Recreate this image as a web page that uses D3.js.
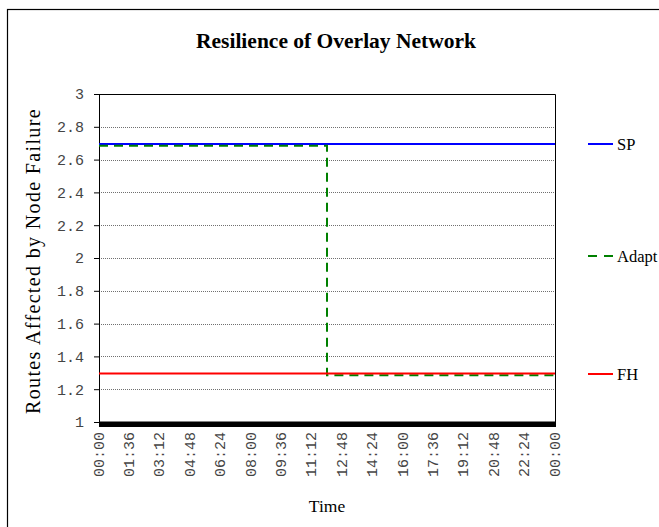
<!DOCTYPE html>
<html>
<head>
<meta charset="utf-8">
<script src="https://cdn.jsdelivr.net/npm/d3@7"></script>
<style>
  body { margin: 0; background: #fff; }
</style>
</head>
<body>
<svg id="chart" width="659" height="527"></svg>
<script>
// time in minutes since 00:00, step points
const times = [0, 720, 1440]
const spValues = [2.695, 2.695, 2.695]
const adaptValues = [2.685, 1.285, 1.285]
const fhValues = [1.295, 1.295, 1.295]
const yTicks = [1, 1.2, 1.4, 1.6, 1.8, 2, 2.2, 2.4, 2.6, 2.8, 3]
const xTickLabels = ['00:00', '01:36', '03:12', '04:48', '06:24', '08:00', '09:36', '11:12',
  '12:48', '14:24', '16:00', '17:36', '19:12', '20:48', '22:24', '00:00']
const seriesNames = ['SP', 'Adapt', 'FH']
const seriesColors = ['#0000ff', '#008000', '#ff0000']

const margin = { top: 94, right: 104, bottom: 105, left: 99 }
const width = 659
const height = 527
const plotW = width - margin.left - margin.right
const plotH = height - margin.top - margin.bottom

const svg = d3.select('#chart')

/* outer frame */
svg.append('rect')
  .attr('x', 7.5).attr('y', 9.5)
  .attr('width', 700).attr('height', 600)
  .attr('fill', 'none').attr('stroke', '#000').attr('stroke-width', 1.2)

const x = d3.scaleLinear().domain([0, 1440]).range([margin.left, margin.left + plotW])
const y = d3.scaleLinear().domain([1, 3]).range([margin.top + plotH, margin.top])

/* gridlines */
svg.append('g')
  .selectAll('line')
  .data(yTicks.slice(1, -1))
  .join('line')
  .attr('x1', x(0)).attr('x2', x(1440))
  .attr('y1', (d) => Math.round(y(d)) + 0.5).attr('y2', (d) => Math.round(y(d)) + 0.5)
  .attr('stroke', '#707070').attr('stroke-width', 1).attr('stroke-dasharray', '1,1')

/* plot frame (top and right) */
svg.append('path')
  .attr('d', `M${x(0)},${Math.round(y(3)) + 0.5}H${x(1440) + 0.5}V${y(1)}`)
  .attr('fill', 'none').attr('stroke', '#000').attr('stroke-width', 1)

/* y axis */
const yAxis = svg.append('g')
  .attr('transform', `translate(${margin.left},0)`)
  .call(d3.axisLeft(y).tickValues(yTicks).tickSize(5).tickPadding(10).tickFormat((d) => d3.format('')(+d.toFixed(1))))
yAxis.select('.domain').attr('stroke', '#000').attr('d', `M0.5,${y(3)}V${y(1)}`)
yAxis.selectAll('.tick line').attr('stroke', '#000')
yAxis.selectAll('text')
  .attr('font-family', '"Liberation Mono", "Courier New", monospace')
  .attr('font-size', 15).attr('fill', '#444')

/* x axis: dense category ticks form a thick band */
svg.append('rect')
  .attr('x', x(0)).attr('y', y(1) - 0.5)
  .attr('width', x(1440) - x(0) + 1).attr('height', 5.5)
  .attr('fill', '#000')

const xLab = d3.scaleLinear().domain([0, xTickLabels.length - 1]).range([x(0), x(1440)])
svg.append('g')
  .selectAll('text')
  .data(xTickLabels)
  .join('text')
  .attr('transform', (d, i) => `translate(${xLab(i) + 4.5},432) rotate(-90)`)
  .attr('text-anchor', 'end')
  .attr('font-family', '"Liberation Mono", "Courier New", monospace')
  .attr('font-size', 15).attr('fill', '#444')
  .text((d) => d)

/* series */
const line = d3.line()
  .x((d, i) => x(times[i]))
  .y((d) => y(d))
  .curve(d3.curveStepAfter)

const series = [spValues, adaptValues, fhValues]
series.forEach((vals, k) => {
  svg.append('path')
    .datum(vals)
    .attr('fill', 'none')
    .attr('stroke', seriesColors[k])
    .attr('stroke-width', 2)
    .attr('stroke-dasharray', seriesNames[k] === 'Adapt' ? '9,6' : null)
    .attr('d', line)
})

/* legend */
const legendY = [144, 256, 374]
seriesNames.forEach((name, k) => {
  svg.append('line')
    .attr('x1', 588).attr('x2', 613)
    .attr('y1', legendY[k]).attr('y2', legendY[k])
    .attr('stroke', seriesColors[k]).attr('stroke-width', 2)
    .attr('stroke-dasharray', name === 'Adapt' ? '9,7' : null)
  svg.append('text')
    .attr('x', 617).attr('y', legendY[k] + 5.5)
    .attr('font-family', '"Liberation Serif", "Times New Roman", serif')
    .attr('font-size', 16.5).attr('fill', '#000')
    .text(name)
})

/* titles */
svg.append('text')
  .attr('x', 336).attr('y', 48)
  .attr('text-anchor', 'middle')
  .attr('font-family', '"Liberation Serif", "Times New Roman", serif')
  .attr('font-size', 21.5).attr('font-weight', 'bold')
  .text('Resilience of Overlay Network')

svg.append('text')
  .attr('transform', `translate(40,261) rotate(-90)`)
  .attr('text-anchor', 'middle')
  .attr('font-family', '"Liberation Serif", "Times New Roman", serif')
  .attr('font-size', 20)
  .attr('letter-spacing', 1.35)
  .text('Routes Affected by Node Failure')

svg.append('text')
  .attr('x', 327).attr('y', 512)
  .attr('text-anchor', 'middle')
  .attr('font-family', '"Liberation Serif", "Times New Roman", serif')
  .attr('font-size', 17.5)
  .text('Time')
</script>
</body>
</html>
